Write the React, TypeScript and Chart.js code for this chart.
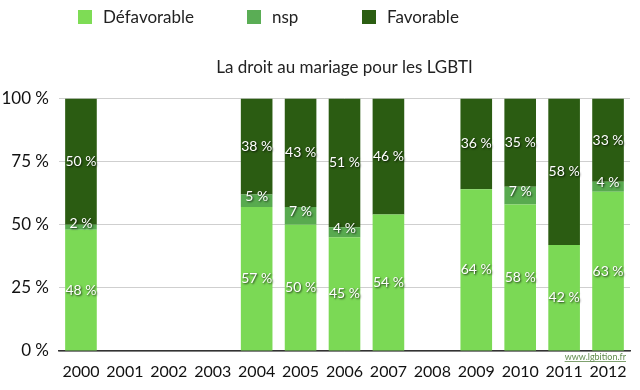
import React, { useEffect, useRef } from "react";
import { Chart, registerables } from "chart.js";
Chart.register(...registerables);

const years = ["2000", "2001", "2002", "2003", "2004", "2005", "2006", "2007", "2008", "2009", "2010", "2011", "2012"];
const defavorable = [48, null, null, null, 57, 50, 45, 54, null, 64, 58, 42, 63];
const nsp = [2, null, null, null, 5, 7, 4, null, null, null, 7, null, 4];
const favorable = [50, null, null, null, 38, 43, 51, 46, null, 36, 35, 58, 33];
const seriesLabels = ["Défavorable", "nsp", "Favorable"];
const seriesColors = ["#7bd955", "#58aa4f", "#2b5c12"];
const legendColors = ["#7edc55", "#5aad55", "#2b5e12"];
const legendBoxX = [78, 247, 362];
const chartTitle = "La droit au mariage pour les LGBTI";
const watermark = "www.lgbition.fr";

const FONT = "Lato, 'DejaVu Sans', sans-serif";

const labelPlugin = {
  id: "segLabels",
  afterDatasetsDraw(chart: any) {
    const ctx = chart.ctx;
    ctx.save();
    ctx.font = `14px ${FONT}`;
    ctx.textAlign = "center";
    ctx.textBaseline = "middle";
    chart.data.datasets.forEach((ds: any, di: number) => {
      const meta = chart.getDatasetMeta(di);
      meta.data.forEach((el: any, i: number) => {
        const v = ds.data[i];
        if (v === null || v === undefined) return;
        let y = (el.y + el.base) / 2;
        if (v < 10) y -= 4;
        ctx.shadowColor = "rgba(0,0,0,0.75)";
        ctx.shadowOffsetX = 1;
        ctx.shadowOffsetY = 1;
        ctx.shadowBlur = 2;
        ctx.fillStyle = "#ffffff";
        ctx.fillText(`${v} %`, el.x, y);
      });
    });
    ctx.restore();
  },
};

const legendPlugin = {
  id: "customLegend",
  afterDraw(chart: any) {
    const ctx = chart.ctx;
    ctx.save();
    ctx.font = `17px ${FONT}`;
    ctx.textBaseline = "middle";
    ctx.textAlign = "left";
    const cy = 17;
    chart.data.datasets.forEach((ds: any, i: number) => {
      const x = legendBoxX[i];
      ctx.fillStyle = legendColors[i];
      ctx.fillRect(x, cy - 7, 14, 14);
      ctx.fillStyle = "#222";
      ctx.fillText(ds.label, x + 25, cy + 1);
    });
    // watermark
    ctx.font = `9px ${FONT}`;
    ctx.fillStyle = "#5f8a4c";
    ctx.textAlign = "right";
    ctx.textBaseline = "alphabetic";
    const wx = chart.chartArea.right - 4;
    const wy = chart.chartArea.bottom + 9;
    ctx.fillText(watermark, wx, wy);
    const w = ctx.measureText(watermark).width;
    ctx.fillRect(wx - w, wy + 1, w, 0.8);
    ctx.restore();
  },
};

export default function App() {
  const ref = useRef<HTMLCanvasElement>(null);
  useEffect(() => {
    if (!ref.current) return;
    const chart = new Chart(ref.current, {
      type: "bar",
      data: {
        labels: years,
        datasets: [
          { label: seriesLabels[0], data: defavorable, backgroundColor: seriesColors[0] },
          { label: seriesLabels[1], data: nsp, backgroundColor: seriesColors[1] },
          { label: seriesLabels[2], data: favorable, backgroundColor: seriesColors[2] },
        ],
      },
      options: {
        animation: false,
        responsive: false,
        maintainAspectRatio: false,
        datasets: { bar: { categoryPercentage: 1, barPercentage: 0.72 } },
        layout: { padding: { top: 38, right: 10, bottom: 0, left: 0 } },
        plugins: {
          legend: { display: false },
          tooltip: { enabled: false },
          title: {
            display: true,
            text: chartTitle,
            fullSize: false,
            color: "#222",
            font: { family: FONT, size: 17, weight: "normal" },
            padding: { top: 19, bottom: 21 },
          },
        },
        scales: {
          x: {
            stacked: true,
            afterFit(scale: any) {
              scale.height = 39;
            },
            grid: { display: false, drawTicks: false },
            border: { display: true, color: "#333", width: 1.5 },
            ticks: { color: "#111", font: { family: FONT, size: 16 }, padding: 11, maxRotation: 0, autoSkip: false },
          },
          y: {
            stacked: true,
            min: 0,
            max: 100,
            afterFit(scale: any) {
              scale.width = 59;
            },
            grid: { color: "#cfcfcf", lineWidth: 1, drawTicks: false },
            border: { display: false },
            ticks: {
              stepSize: 25,
              color: "#111",
              padding: 10,
              font: { family: FONT, size: 17 },
              callback: (v: any) => `${v} %`,
            },
          },
        },
      },
      plugins: [labelPlugin, legendPlugin],
    });
    return () => chart.destroy();
  }, []);
  return (
    <div style={{ position: "fixed", left: 0, top: 0, width: 640, height: 390, background: "#fff" }}>
      <canvas ref={ref} width={640} height={390} style={{ width: 640, height: 390 }} />
    </div>
  );
}
